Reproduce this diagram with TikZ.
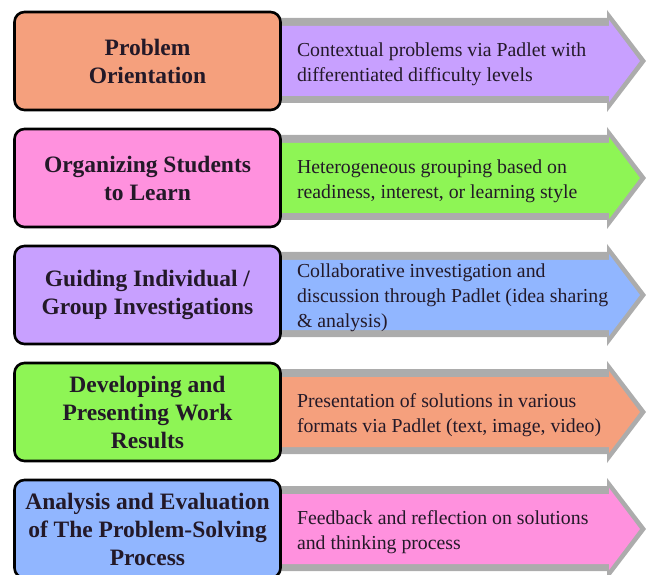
\documentclass[tikz,border=0pt]{standalone}
\usepackage{fontspec}
\setmainfont{Liberation Serif}
\usetikzlibrary{positioning}

\definecolor{salmon}{RGB}{245,160,125}
\definecolor{rosepink}{RGB}{255,145,222}
\definecolor{lavender}{RGB}{200,160,255}
\definecolor{limegreen}{RGB}{142,245,85}
\definecolor{skyblue}{RGB}{145,182,255}
\definecolor{bandgray}{RGB}{172,172,172}
\definecolor{inkdark}{RGB}{35,25,40}

\tikzset{
  stage/.style={draw=black, line width=2.6pt, rounded corners=10pt,
    minimum width=266pt, minimum height=98pt, align=center, text=inkdark,
    font=\fontsize{23.5}{28}\selectfont\bfseries},
  band/.style={fill=bandgray},
  note/.style={align=left, text=inkdark, inner sep=0pt, yshift=-3pt,
    font=\fontsize{19.8}{25}\selectfont},
}

\begin{document}
\begin{tikzpicture}[x=1pt,y=-1pt]
\useasboundingbox (0,0) rectangle (646,575);

% arrows first, the boxes sit on their tails
% (gray outer arrow, coloured inner arrow)
\fill[band, shift={(0,61)}] (275,-43) -- (607,-43) -- (607,-51) -- (646,0) -- (607,51) -- (607,42) -- (275,42) -- cycle;
\fill[lavender, shift={(0,61)}] (275,-35) -- (609,-35) -- (609,-41) -- (640,0) -- (609,41) -- (609,35) -- (275,35) -- cycle;
\fill[band, shift={(0,178)}] (275,-43) -- (607,-43) -- (607,-51) -- (646,0) -- (607,51) -- (607,42) -- (275,42) -- cycle;
\fill[limegreen, shift={(0,178)}] (275,-35) -- (609,-35) -- (609,-41) -- (640,0) -- (609,41) -- (609,35) -- (275,35) -- cycle;
\fill[band, shift={(0,295)}] (275,-43) -- (607,-43) -- (607,-51) -- (646,0) -- (607,51) -- (607,42) -- (275,42) -- cycle;
\fill[skyblue, shift={(0,295)}] (275,-35) -- (609,-35) -- (609,-41) -- (640,0) -- (609,41) -- (609,35) -- (275,35) -- cycle;
\fill[band, shift={(0,412)}] (275,-43) -- (607,-43) -- (607,-51) -- (646,0) -- (607,51) -- (607,42) -- (275,42) -- cycle;
\fill[salmon, shift={(0,412)}] (275,-35) -- (609,-35) -- (609,-41) -- (640,0) -- (609,41) -- (609,35) -- (275,35) -- cycle;
\fill[band, shift={(0,529)}] (275,-43) -- (607,-43) -- (607,-51) -- (646,0) -- (607,51) -- (607,42) -- (275,42) -- cycle;
\fill[rosepink, shift={(0,529)}] (275,-35) -- (609,-35) -- (609,-41) -- (640,0) -- (609,41) -- (609,35) -- (275,35) -- cycle;

% stages
\node[stage, fill=salmon] (p1) at (147.5,61) {Problem\\Orientation};
\node[stage, fill=rosepink] (p2) at (147.5,178) {Organizing Students\\to Learn};
\node[stage, fill=lavender] (p3) at (147.5,295) {Guiding Individual /\\Group Investigations};
\node[stage, fill=limegreen] (p4) at (147.5,412) {Developing and\\Presenting Work\\Results};
\node[stage, fill=skyblue] (p5) at (147.5,529) {Analysis and Evaluation\\of The Problem-Solving\\Process};

% what happens in each stage
\node[note, right=15pt of p1] (t1) {Contextual problems via Padlet with\\differentiated difficulty levels};
\node[note, right=15pt of p2] (t2) {Heterogeneous grouping based on\\readiness, interest, or learning style};
\node[note, right=15pt of p3] (t3) {Collaborative investigation and\\discussion through Padlet (idea sharing\\\& analysis)};
\node[note, right=15pt of p4] (t4) {Presentation of solutions in various\\formats via Padlet (text, image, video)};
\node[note, right=15pt of p5] (t5) {Feedback and reflection on solutions\\and thinking process};
\end{tikzpicture}
\end{document}
